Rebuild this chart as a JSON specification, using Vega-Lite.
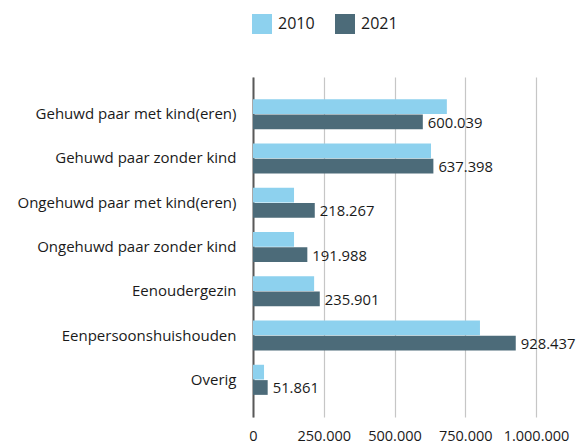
{
  "$schema": "https://vega.github.io/schema/vega-lite/v6.json",
  "width": 283,
  "height": 340,
  "autosize": {"type": "none"},
  "padding": {"left": 253, "top": 77, "right": 45, "bottom": 28},
  "background": "white",
  "config": {
    "locale": {"number": {"decimal": ",", "thousands": ".", "grouping": [3], "currency": ["€", ""]}},
    "view": {"stroke": null},
    "font": "Open Sans"
  },
  "data": {
    "values": [
      {"categorie": "Gehuwd paar met kind(eren)", "jaar": "2010", "aantal": 685000},
      {"categorie": "Gehuwd paar met kind(eren)", "jaar": "2021", "aantal": 600039},
      {"categorie": "Gehuwd paar zonder kind", "jaar": "2010", "aantal": 629000},
      {"categorie": "Gehuwd paar zonder kind", "jaar": "2021", "aantal": 637398},
      {"categorie": "Ongehuwd paar met kind(eren)", "jaar": "2010", "aantal": 145000},
      {"categorie": "Ongehuwd paar met kind(eren)", "jaar": "2021", "aantal": 218267},
      {"categorie": "Ongehuwd paar zonder kind", "jaar": "2010", "aantal": 145000},
      {"categorie": "Ongehuwd paar zonder kind", "jaar": "2021", "aantal": 191988},
      {"categorie": "Eenoudergezin", "jaar": "2010", "aantal": 216000},
      {"categorie": "Eenoudergezin", "jaar": "2021", "aantal": 235901},
      {"categorie": "Eenpersoonshuishouden", "jaar": "2010", "aantal": 802000},
      {"categorie": "Eenpersoonshuishouden", "jaar": "2021", "aantal": 928437},
      {"categorie": "Overig", "jaar": "2010", "aantal": 39000},
      {"categorie": "Overig", "jaar": "2021", "aantal": 51861}
    ]
  },
  "encoding": {
    "y": {
      "field": "categorie",
      "type": "nominal",
      "sort": null,
      "scale": {"paddingInner": 0.32, "paddingOuter": 0.5},
      "axis": {
        "title": null,
        "ticks": false,
        "labelPadding": 17,
        "labelFontSize": 15,
        "labelColor": "#1a1a1a",
        "labelFont": "Open Sans",
        "domainColor": "#595959",
        "domainWidth": 2,
        "labelLimit": 300
      }
    },
    "yOffset": {
      "field": "jaar",
      "type": "nominal",
      "scale": {"domain": ["2010", "2021"], "paddingInner": 0.04}
    },
    "x": {
      "field": "aantal",
      "type": "quantitative",
      "scale": {"domain": [0, 1000000], "nice": false},
      "axis": {
        "title": null,
        "values": [0, 250000, 500000, 750000, 1000000],
        "format": ",d",
        "ticks": false,
        "domain": false,
        "grid": true,
        "gridColor": "#c6c6c6",
        "gridWidth": 1.2,
        "labelPadding": 12,
        "labelFontSize": 14.5,
        "labelColor": "#1a1a1a",
        "labelFlush": false
      }
    }
  },
  "layer": [
    {
      "mark": {"type": "bar"},
      "encoding": {
        "color": {
          "field": "jaar",
          "type": "nominal",
          "scale": {"domain": ["2010", "2021"], "range": ["#8DD1EE", "#4C6B79"]},
          "legend": {
            "title": null,
            "orient": "none",
            "direction": "horizontal",
            "legendX": -1,
            "legendY": -63,
            "symbolType": "square",
            "symbolSize": 400,
            "symbolStrokeWidth": 0,
            "labelFontSize": 16,
            "labelColor": "#1a1a1a",
            "labelOffset": 6,
            "columnPadding": 20
          }
        }
      }
    },
    {
      "transform": [{"filter": "datum.jaar === '2021'"}],
      "mark": {"type": "text", "align": "left", "baseline": "middle", "dx": 5, "dy": 2, "fontSize": 14.8, "color": "#1a1a1a"},
      "encoding": {
        "text": {"field": "aantal", "type": "quantitative", "format": ",d"}
      }
    }
  ]
}
